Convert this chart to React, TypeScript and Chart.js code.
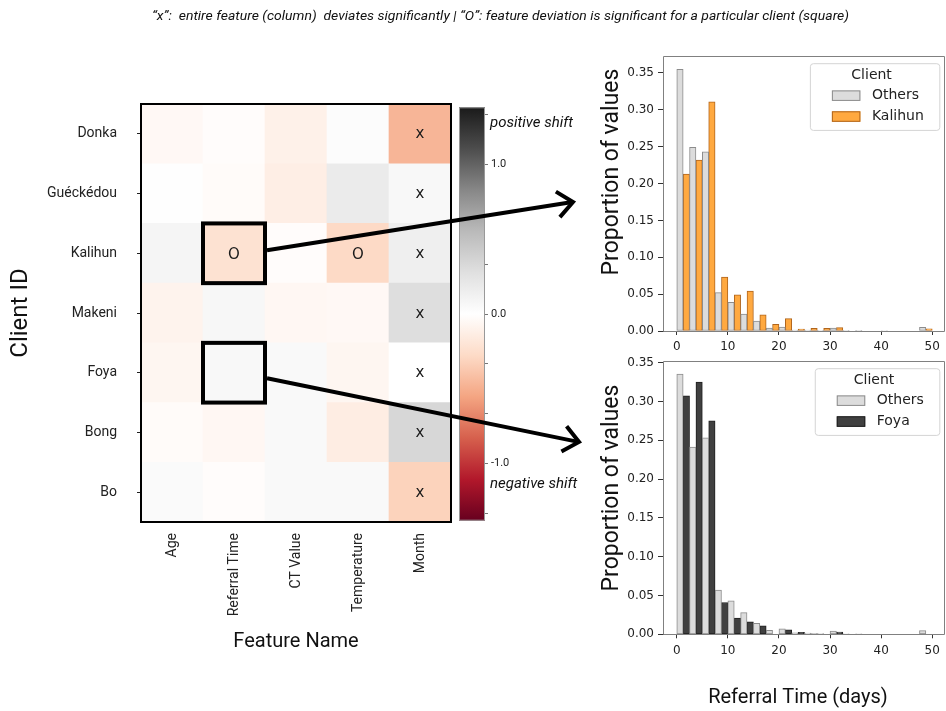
import React, { useEffect, useRef } from 'react';
import { Chart, registerables } from 'chart.js';

Chart.register(...registerables);

// ---------------- Heatmap data ----------------
const clients = ['Donka', 'Guéckédou', 'Kalihun', 'Makeni', 'Foya', 'Bong', 'Bo'];
const features = ['Age', 'Referral Time', 'CT Value', 'Temperature', 'Month'];

// shift of each feature for each client (same order as `features`)
const shiftDonka = [-0.05, -0.02, -0.11, 0.03, -0.47];
const shiftGueckedou = [0.01, -0.03, -0.13, 0.18, 0.06];
const shiftKalihun = [0.09, -0.22, -0.02, -0.28, 0.14];
const shiftMakeni = [-0.09, 0.07, -0.06, -0.05, 0.29];
const shiftFoya = [-0.07, 0.06, 0.05, -0.07, 0.0];
const shiftBong = [-0.03, -0.06, 0.05, -0.14, 0.34];
const shiftBo = [0.045, -0.02, 0.05, 0.05, -0.32];
const shiftRows = [shiftDonka, shiftGueckedou, shiftKalihun, shiftMakeni, shiftFoya, shiftBong, shiftBo];

const columnMarks = ['', '', '', '', 'x'];
const cellMarks = [
  { client: 'Kalihun', feature: 'Referral Time', mark: 'O' },
  { client: 'Kalihun', feature: 'Temperature', mark: 'O' },
];
const zoomedCells = [
  { client: 'Kalihun', feature: 'Referral Time' },
  { client: 'Foya', feature: 'Referral Time' },
];

// colour bar
const shiftMin = -1.384;
const shiftMax = 1.384;
const colorbarTicks = [-1.3333, -1.0, -0.6667, -0.3333, 0.0, 0.3333, 0.6667, 1.0, 1.3333];
const colorbarLabelValues = [-1.0, 0.0, 1.0];

// ---------------- Histogram data ----------------
const binStarts = [0, 2.5, 5, 7.5, 10, 12.5, 15, 17.5, 20, 22.5, 25, 27.5, 30, 32.5, 35, 37.5, 40, 42.5, 45, 47.5];
const binWidth = 2.5;
const othersTop = [0.355, 0.249, 0.243, 0.052, 0.039, 0.023, 0.0136, 0.004, 0.0054, 0.0014, 0.0014, 0.0005, 0.004, 0.001, 0.001, 0, 0.0007, 0, 0, 0.005];
const kalihunShare = [0.213, 0.232, 0.311, 0.073, 0.049, 0.054, 0.022, 0.009, 0.0167, 0.0027, 0.0036, 0.0036, 0.0045, 0, 0, 0, 0, 0, 0, 0.003];
const othersBottom = [0.335, 0.241, 0.253, 0.057, 0.043, 0.028, 0.014, 0.005, 0.007, 0.002, 0.0017, 0.001, 0.0043, 0.0005, 0.0005, 0, 0, 0, 0, 0.0047];
const foyaShare = [0.307, 0.325, 0.275, 0.041, 0.021, 0.016, 0.011, 0, 0.0056, 0.0026, 0.0005, 0, 0.003, 0, 0, 0, 0, 0, 0, 0];
const histXStep = 10;
const histYStep = 0.05;

const titleText = '\u201Cx\u201D:  entire feature (column)  deviates significantly | \u201CO\u201D: feature deviation is significant for a particular client (square)';

// ---------------- helpers ----------------
const RDGY = ['#67001f', '#b2182b', '#d6604d', '#f4a582', '#fddbc7', '#ffffff', '#e0e0e0', '#bababa', '#878787', '#4d4d4d', '#1a1a1a'];
const hexRgb = (h: string) => [parseInt(h.slice(1, 3), 16), parseInt(h.slice(3, 5), 16), parseInt(h.slice(5, 7), 16)];
function shiftColor(v: number) {
  let t = (v - shiftMin) / (shiftMax - shiftMin);
  t = Math.max(0, Math.min(1, t));
  const p = t * 10;
  const i = Math.min(9, Math.floor(p));
  const f = p - i;
  const a = hexRgb(RDGY[i]);
  const b = hexRgb(RDGY[i + 1]);
  const c = a.map((x, k) => Math.round(x + (b[k] - x) * f));
  return `rgb(${c[0]},${c[1]},${c[2]})`;
}

function makeHeatmap(canvas: HTMLCanvasElement) {
  const bottomUp = clients.map((_, i) => clients.length - 1 - i);
  const decor = {
    id: 'heatDecor',
    afterDatasetsDraw(chart: any) {
      const { ctx, chartArea: a, scales } = chart;
      const x = scales.x;
      const y = scales.y;
      const cellW = (a.right - a.left) / features.length;
      ctx.save();
      ctx.fillStyle = '#1a1a1a';
      ctx.font = '15px "DejaVu Sans"';
      ctx.textAlign = 'center';
      ctx.textBaseline = 'alphabetic';
      clients.forEach((c, ci) => {
        features.forEach((f, fi) => {
          let mark = columnMarks[fi];
          const cm = cellMarks.find((m) => m.client === c && m.feature === f);
          if (cm) mark = cm.mark;
          if (!mark) return;
          const m = ctx.measureText(mark);
          const cx = x.getPixelForValue(fi);
          const cy = y.getPixelForValue(clients.length - 0.5 - ci);
          ctx.fillText(mark, cx, cy + (m.actualBoundingBoxAscent - m.actualBoundingBoxDescent) / 2);
        });
      });
      ctx.strokeStyle = '#000';
      ctx.lineWidth = 4;
      zoomedCells.forEach((z) => {
        const ci = clients.indexOf(z.client);
        const fi = features.indexOf(z.feature);
        const cx = x.getPixelForValue(fi);
        const top = y.getPixelForValue(clients.length - ci);
        const bot = y.getPixelForValue(clients.length - 1 - ci);
        ctx.strokeRect(cx - cellW / 2, top, cellW, bot - top);
      });
      ctx.lineWidth = 2;
      ctx.strokeRect(a.left, a.top, a.right - a.left, a.bottom - a.top);
      ctx.restore();
    },
    afterDraw(chart: any) {
      const { ctx, chartArea: a, scales } = chart;
      const x = scales.x;
      const y = scales.y;
      const cellW = (a.right - a.left) / features.length;
      // title
      ctx.save();
      ctx.font = 'italic 13px Roboto';
      ctx.fillStyle = '#111';
      ctx.textAlign = 'center';
      ctx.textBaseline = 'alphabetic';
      const w = ctx.measureText(titleText).width;
      ctx.translate(500.5, 20);
      ctx.scale(697 / w, 1);
      ctx.fillText(titleText, 0, 0);
      ctx.restore();
      // arrows from the highlighted cells to the histograms
      const arrowSpecs = [
        { cell: zoomedCells[0], dy: -3, tip: [573, 202] },
        { cell: zoomedCells[1], dy: 5.5, tip: [579, 442] },
      ];
      ctx.save();
      ctx.strokeStyle = '#000';
      ctx.lineWidth = 4;
      ctx.lineJoin = 'miter';
      arrowSpecs.forEach((s) => {
        const ci = clients.indexOf(s.cell.client);
        const fi = features.indexOf(s.cell.feature);
        const sx = x.getPixelForValue(fi) + cellW / 2 + 2;
        const sy = y.getPixelForValue(clients.length - 0.5 - ci) + s.dy;
        const [tx, ty] = s.tip;
        const ang = Math.atan2(ty - sy, tx - sx);
        ctx.beginPath();
        ctx.moveTo(sx, sy);
        ctx.lineTo(tx - 2 * Math.cos(ang), ty - 2 * Math.sin(ang));
        ctx.stroke();
        ctx.beginPath();
        ctx.moveTo(tx - 20 * Math.cos(ang + 0.7), ty - 20 * Math.sin(ang + 0.7));
        ctx.lineTo(tx, ty);
        ctx.lineTo(tx - 20 * Math.cos(ang - 0.7), ty - 20 * Math.sin(ang - 0.7));
        ctx.stroke();
      });
      ctx.restore();
    },
  };

  return new Chart(canvas, {
    type: 'bar',
    data: {
      labels: features,
      datasets: bottomUp.map((ci) => ({
        label: clients[ci],
        data: features.map(() => 1),
        backgroundColor: shiftRows[ci].map(shiftColor),
        borderWidth: 0,
        barPercentage: 1,
        categoryPercentage: 1,
        stack: 'cells',
      })),
    },
    options: {
      responsive: false,
      animation: false,
      devicePixelRatio: 1,
      layout: { padding: { left: 0, top: 104, right: 495, bottom: 39 } },
      plugins: { legend: { display: false }, tooltip: { enabled: false } },
      events: [],
      scales: {
        x: {
          type: 'category',
          stacked: true,
          offset: true,
          grid: { display: false, drawTicks: false },
          border: { display: false },
          ticks: {
            minRotation: 90,
            maxRotation: 90,
            autoSkip: false,
            padding: 11,
            color: '#222',
            font: { family: 'Roboto', size: 14 },
          },
          title: {
            display: true,
            text: 'Feature Name',
            color: '#111',
            font: { family: 'Roboto', size: 20 },
            padding: { top: 0, bottom: 18 },
          },
          afterFit: (s: any) => {
            s.height = 150;
          },
        },
        y: {
          type: 'linear',
          stacked: true,
          min: 0,
          max: clients.length,
          afterBuildTicks: (s: any) => {
            s.ticks = clients.map((_, i) => ({ value: clients.length - 0.5 - i }));
          },
          ticks: {
            padding: 20,
            color: '#222',
            font: { family: 'Roboto', size: 14 },
            callback: (v: any) => clients[Math.round(clients.length - 0.5 - Number(v))],
          },
          grid: { drawOnChartArea: false, tickLength: 4, color: '#222' },
          border: { display: false },
          title: {
            display: true,
            text: 'Client ID',
            color: '#111',
            font: { family: 'Roboto', size: 24 },
            padding: { top: 7, bottom: 0 },
          },
          afterFit: (s: any) => {
            s.width = 141;
          },
        },
      },
    } as any,
    plugins: [decor],
  });
}

function makeColorbar(canvas: HTMLCanvasElement) {
  const bar = {
    id: 'cbFill',
    beforeDatasetsDraw(chart: any) {
      const { ctx, chartArea: a, scales } = chart;
      const y = scales.y;
      const g = ctx.createLinearGradient(0, y.getPixelForValue(shiftMin), 0, y.getPixelForValue(shiftMax));
      RDGY.forEach((c, i) => g.addColorStop(i / 10, c));
      ctx.save();
      ctx.fillStyle = g;
      ctx.fillRect(a.left, a.top, a.right - a.left, a.bottom - a.top);
      ctx.strokeStyle = '#999';
      ctx.lineWidth = 1;
      ctx.strokeRect(a.left + 0.5, a.top + 0.5, a.right - a.left - 1, a.bottom - a.top - 1);
      ctx.restore();
    },
    afterDraw(chart: any) {
      const { ctx, chartArea: a } = chart;
      ctx.save();
      ctx.font = 'italic 15px Roboto';
      ctx.fillStyle = '#111';
      ctx.textAlign = 'left';
      ctx.textBaseline = 'middle';
      ctx.fillText('positive shift', a.right + 5, a.top + 15.7);
      ctx.fillText('negative shift', a.right + 5, a.bottom - 36.7);
      ctx.restore();
    },
  };
  return new Chart(canvas, {
    type: 'scatter',
    data: { datasets: [] },
    options: {
      responsive: false,
      animation: false,
      devicePixelRatio: 1,
      events: [],
      layout: { padding: { left: 4, top: 12.3, right: 65, bottom: 14.3 } },
      plugins: { legend: { display: false }, tooltip: { enabled: false } },
      scales: {
        x: { display: false, min: 0, max: 1 },
        y: {
          position: 'right',
          min: shiftMin,
          max: shiftMax,
          afterBuildTicks: (s: any) => {
            s.ticks = colorbarTicks.map((v) => ({ value: v }));
          },
          ticks: {
            padding: 3,
            color: '#222',
            font: { family: 'Roboto', size: 11 },
            callback: (v: any) => {
              const n = Number(v);
              const hit = colorbarLabelValues.find((l) => Math.abs(l - n) < 1e-6);
              return hit === undefined ? '' : hit.toFixed(1);
            },
          },
          grid: { drawOnChartArea: false, tickLength: 3, color: '#777' },
          border: { display: false },
          afterFit: (s: any) => {
            s.width = 40;
          },
        },
      },
    } as any,
    plugins: [bar],
  });
}

type TextItem = { text: string; x: number; y: number; font: string; rotate?: number };

function makeHist(
  canvas: HTMLCanvasElement,
  offset: [number, number],
  padding: any,
  others: number[],
  client: number[],
  clientName: string,
  clientFill: string,
  clientEdge: string,
  texts: TextItem[],
) {
  const yMax = Math.max(...others, ...client) * 1.05;
  const extras = {
    id: 'histExtras',
    afterDatasetsDraw(chart: any) {
      const { ctx, chartArea: a } = chart;
      ctx.save();
      ctx.strokeStyle = '#808080';
      ctx.lineWidth = 1;
      const L = Math.round(a.left) - 0.5;
      const R = Math.round(a.right) - 0.5;
      const T = Math.round(a.top) + 0.5;
      const B = Math.round(a.bottom) + 0.5;
      ctx.beginPath();
      ctx.moveTo(L, B);
      ctx.lineTo(L, T);
      ctx.lineTo(R, T);
      ctx.lineTo(R, B);
      ctx.closePath();
      ctx.stroke();
      ctx.restore();
    },
    afterDraw(chart: any) {
      const { ctx, chartArea: a } = chart;
      const ds = chart.data.datasets;
      ctx.save();
      // legend
      ctx.font = '14px "DejaVu Sans"';
      const labelW = Math.max(...ds.map((d: any) => ctx.measureText(d.label).width));
      const w = 22 + 28.5 + 11.5 + labelW + 15.5;
      const h = 66.7;
      const right = a.right - 5.7;
      const top = a.top + 7;
      const left = right - w;
      ctx.beginPath();
      (ctx as any).roundRect(left + 0.5, top + 0.5, w, h, 3);
      ctx.fillStyle = 'rgba(255,255,255,0.85)';
      ctx.fill();
      ctx.strokeStyle = '#d4d4d4';
      ctx.lineWidth = 1;
      ctx.stroke();
      ctx.fillStyle = '#222';
      ctx.textAlign = 'center';
      ctx.textBaseline = 'middle';
      ctx.fillText('Client', left + w / 2 - 3, top + 11.7);
      ds.forEach((d: any, i: number) => {
        const cy = top + 32.2 + i * 20.9;
        ctx.fillStyle = d.backgroundColor;
        ctx.fillRect(left + 22, cy - 5, 28.5, 10.5);
        ctx.strokeStyle = d.borderColor;
        ctx.strokeRect(left + 22.5, cy - 4.5, 27.5, 9.5);
        ctx.fillStyle = '#222';
        ctx.textAlign = 'left';
        ctx.fillText(d.label, left + 22 + 28.5 + 11.5, cy);
      });
      // axis labels
      texts.forEach((t) => {
        ctx.save();
        ctx.font = t.font;
        ctx.fillStyle = '#111';
        ctx.textAlign = 'center';
        ctx.textBaseline = 'alphabetic';
        ctx.translate(t.x - offset[0], t.y - offset[1]);
        if (t.rotate) ctx.rotate(t.rotate);
        ctx.fillText(t.text, 0, 0);
        ctx.restore();
      });
      ctx.restore();
    },
  };
  const tickFont = { family: 'DejaVu Sans', size: 12 };
  return new Chart(canvas, {
    type: 'bar',
    data: {
      datasets: [
        {
          label: 'Others',
          data: binStarts.map((b, i) => ({ x: b + binWidth * 0.25, y: others[i] })),
          backgroundColor: '#dcdcdc',
          borderColor: '#8c8c8c',
          borderWidth: 1,
          borderSkipped: false,
          grouped: false,
          barPercentage: 1,
          categoryPercentage: 1,
        },
        {
          label: clientName,
          data: binStarts.map((b, i) => ({ x: b + binWidth * 0.75, y: client[i] })),
          backgroundColor: clientFill,
          borderColor: clientEdge,
          borderWidth: 1,
          borderSkipped: false,
          grouped: false,
          barPercentage: 1,
          categoryPercentage: 1,
        },
      ],
    },
    options: {
      responsive: false,
      animation: false,
      devicePixelRatio: 1,
      events: [],
      layout: { padding },
      plugins: { legend: { display: false }, tooltip: { enabled: false } },
      scales: {
        x: {
          type: 'linear',
          min: binStarts[0] - 2.5,
          max: binStarts[binStarts.length - 1] + binWidth + 2.5,
          offset: false,
          ticks: { stepSize: histXStep, includeBounds: false, maxRotation: 0, padding: 5, color: '#222', font: tickFont },
          grid: { display: true, offset: false, drawOnChartArea: false, tickLength: 4, color: '#333' },
          border: { display: false },
          afterFit: (s: any) => {
            s.height = 20;
          },
        },
        y: {
          type: 'linear',
          min: 0,
          max: yMax,
          ticks: {
            stepSize: histYStep,
            includeBounds: false,
            padding: 4,
            color: '#222',
            font: tickFont,
            callback: (v: any) => Number(v).toFixed(2),
          },
          grid: { drawOnChartArea: false, tickLength: 6, color: '#333' },
          border: { display: false },
          afterFit: (s: any) => {
            s.width = 74;
          },
        },
      },
    } as any,
    plugins: [extras],
  });
}

export default function App() {
  const heatRef = useRef<HTMLCanvasElement>(null);
  const cbRef = useRef<HTMLCanvasElement>(null);
  const topRef = useRef<HTMLCanvasElement>(null);
  const botRef = useRef<HTMLCanvasElement>(null);

  useEffect(() => {
    const charts: Chart[] = [];
    charts.push(
      makeHist(topRef.current!, [590, 45], { left: 0, top: 11, right: 1, bottom: 4 }, othersTop, kalihunShare, 'Kalihun', '#ffa940', '#b0651c', [
        { text: 'Proportion of values', x: 618, y: 172, font: '23px Roboto', rotate: -Math.PI / 2 },
      ]),
    );
    charts.push(
      makeHist(botRef.current!, [590, 350], { left: 0, top: 10.7, right: 1, bottom: 56.7 }, othersBottom, foyaShare, 'Foya', '#404040', '#1e1e1e', [
        { text: 'Proportion of values', x: 618, y: 488, font: '23px Roboto', rotate: -Math.PI / 2 },
        { text: 'Referral Time (days)', x: 798, y: 703, font: '20px Roboto' },
      ]),
    );
    charts.push(makeColorbar(cbRef.current!));
    charts.push(makeHeatmap(heatRef.current!));
    return () => charts.forEach((c) => c.destroy());
  }, []);

  const abs = (l: number, t: number, w: number, h: number, z: number) => ({
    position: 'absolute' as const,
    left: l,
    top: t,
    width: w,
    height: h,
    zIndex: z,
  });

  return (
    <div style={{ position: 'absolute', left: 0, top: 0, width: 946, height: 711, background: '#fff', overflow: 'hidden' }}>
      <canvas ref={topRef} width={356} height={310} style={abs(590, 45, 356, 310, 1)} />
      <canvas ref={botRef} width={356} height={361} style={abs(590, 350, 356, 361, 1)} />
      <canvas ref={cbRef} width={135} height={440} style={abs(455, 95, 135, 440, 2)} />
      <canvas ref={heatRef} width={946} height={711} style={abs(0, 0, 946, 711, 3)} />
    </div>
  );
}
